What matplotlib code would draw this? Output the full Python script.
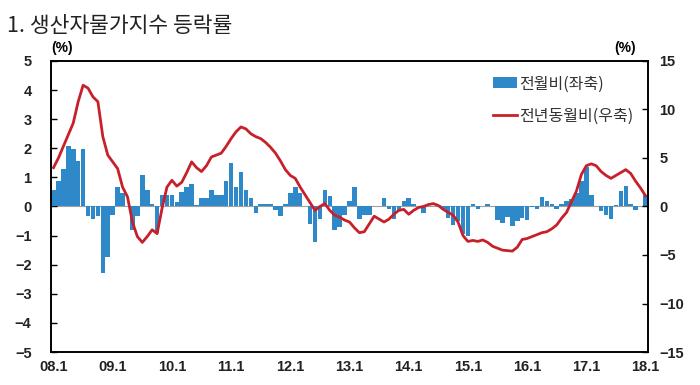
import matplotlib
matplotlib.use("Agg")
import matplotlib.pyplot as plt
import numpy as np
from matplotlib.patches import Patch
from matplotlib.lines import Line2D

# Monthly data 2008.1 - 2018.1
mom = [0.55, 0.88, 1.30, 2.07, 1.98, 1.55, 1.98, -0.34, -0.44, -0.32, -2.30, -1.72,
       -0.30, 0.67, 0.47, 0.02, -0.80, -0.32, 1.07, 0.55, 0.08, -0.90, 0.38, 0.38,
       0.38, 0.17, 0.50, 0.67, 0.78, 0.06, 0.29, 0.29, 0.55, 0.38, 0.38, 0.86,
       1.48, 0.67, 1.20, 0.58, 0.29, -0.22, 0.08, 0.08, 0.08, -0.12, -0.32, 0.08,
       0.47, 0.68, 0.47, 0.03, -0.60, -1.22, -0.42, 0.58, 0.35, -0.80, -0.70, -0.30,
       0.18, 0.68, -0.42, -0.30, -0.30, 0.01, 0.01, 0.30, -0.10, -0.42, -0.16, 0.18,
       0.30, 0.09, 0.01, -0.22, 0.01, 0.01, 0.05, -0.10, -0.38, -0.65, -0.50, -0.95,
       -1.00, 0.10, -0.07, 0.01, 0.10, 0.01, -0.45, -0.55, -0.36, -0.67, -0.50, -0.41,
       -0.45, -0.02, -0.09, 0.31, 0.18, 0.10, -0.09, 0.10, 0.20, 0.25, 0.46, 0.87,
       1.36, 0.40, 0.02, -0.17, -0.29, -0.44, 0.06, 0.52, 0.69, 0.08, -0.11, 0.01,
       0.38]
yoy = [4.0, 5.0, 6.2, 7.4, 8.6, 10.8, 12.5, 12.2, 11.3, 10.8, 7.2, 5.3,
       4.6, 3.9, 2.0, 1.0, -1.6, -3.1, -3.7, -3.1, -2.4, -2.8, -0.2, 2.0,
       2.7, 2.1, 2.5, 3.5, 4.6, 4.0, 3.6, 4.2, 5.1, 5.3, 5.5, 6.2,
       7.0, 7.7, 8.2, 8.0, 7.5, 7.2, 7.0, 6.6, 6.1, 5.5, 4.7, 3.8,
       3.2, 2.9, 2.0, 1.2, 0.4, -0.4, 0.0, 0.3, -0.4, -0.9, -1.1, -1.4,
       -1.6, -2.2, -2.7, -2.6, -1.8, -1.0, -1.3, -1.6, -1.3, -0.8, -0.4, -0.3,
       -0.8, -0.4, -0.1, 0.0, 0.2, 0.3, 0.1, -0.3, -0.6, -0.9, -1.6, -3.0,
       -3.6, -3.5, -3.6, -3.45, -3.7, -4.1, -4.3, -4.5, -4.55, -4.6, -4.2, -3.4,
       -3.3, -3.1, -2.9, -2.7, -2.6, -2.3, -1.9, -1.2, -0.6, 0.5, 1.6, 3.3,
       4.2, 4.4, 4.2, 3.6, 3.2, 2.9, 3.2, 3.5, 3.8, 3.4, 2.6, 1.9,
       1.1]
xlabels = ["08.1", "09.1", "10.1", "11.1", "12.1", "13.1", "14.1", "15.1", "16.1", "17.1", "18.1"]
title = "1. 생산자물가지수 등락률"
legend_bar = "전월비(좌축)"
legend_line = "전년동월비(우축)"

BAR_C = "#2F88C8"
LINE_C = "#C8202A"
CJK = ["Noto Sans CJK KR", "DejaVu Sans"]
NUM = ["Liberation Sans", "DejaVu Sans"]

fig = plt.figure(figsize=(7.0, 3.85), dpi=100)
ax = fig.add_axes([0.0729, 0.0857, 0.8528, 0.7559])
ax2 = ax.twinx()

x = np.arange(len(mom))
ax.bar(x, mom, width=0.92, color=BAR_C, edgecolor="none", zorder=2)
ax.axhline(0, color="#A0A0A0", lw=0.8, zorder=1)
ax2.plot(x, yoy, color=LINE_C, lw=2.0, zorder=3)

ax.set_xlim(-0.5, len(mom) - 0.5)
ax.set_ylim(-5, 5)
ax2.set_ylim(-15, 15)
ax.set_yticks(np.arange(-5, 6, 1))
ax2.set_yticks(np.arange(-15, 16, 5))
ax.set_xticks(np.arange(0, len(mom), 12))
ax.set_xticklabels(xlabels)

for a in (ax, ax2):
    for s in a.spines.values():
        s.set_linewidth(1.2)
        s.set_color("black")
    a.tick_params(direction="in", length=4, width=1.0, labelsize=10.5, pad=6)
ax.tick_params(axis="x", length=0, pad=6)
for lab in ax.get_xticklabels() + ax.get_yticklabels() + ax2.get_yticklabels():
    lab.set_fontweight("bold")
    lab.set_family(NUM)
    lab.set_color("#222222")
ax.tick_params(axis="y", pad=14)
ax2.tick_params(axis="y", pad=8)

fig.text(0.088, 0.858, "(%)", fontsize=10, fontweight="bold", family=NUM, ha="center", va="bottom")
fig.text(0.893, 0.858, "(%)", fontsize=10, fontweight="bold", family=NUM, ha="center", va="bottom")
fig.text(0.010, 0.905, title, fontsize=15.5, family=CJK, color="#222222", ha="left", va="bottom")

handles = [Patch(facecolor=BAR_C, edgecolor="none"), Line2D([0], [0], color=LINE_C, lw=2.0)]
leg = ax2.legend(handles, [legend_bar, legend_line], loc="upper right", frameon=False,
                 prop={"family": CJK, "size": 11.5}, handlelength=1.5, handletextpad=0.15,
                 labelspacing=0.95, bbox_to_anchor=(1.0, 1.0))
for t in leg.get_texts():
    t.set_color("#333333")

fig.savefig("out.png", dpi=100)
